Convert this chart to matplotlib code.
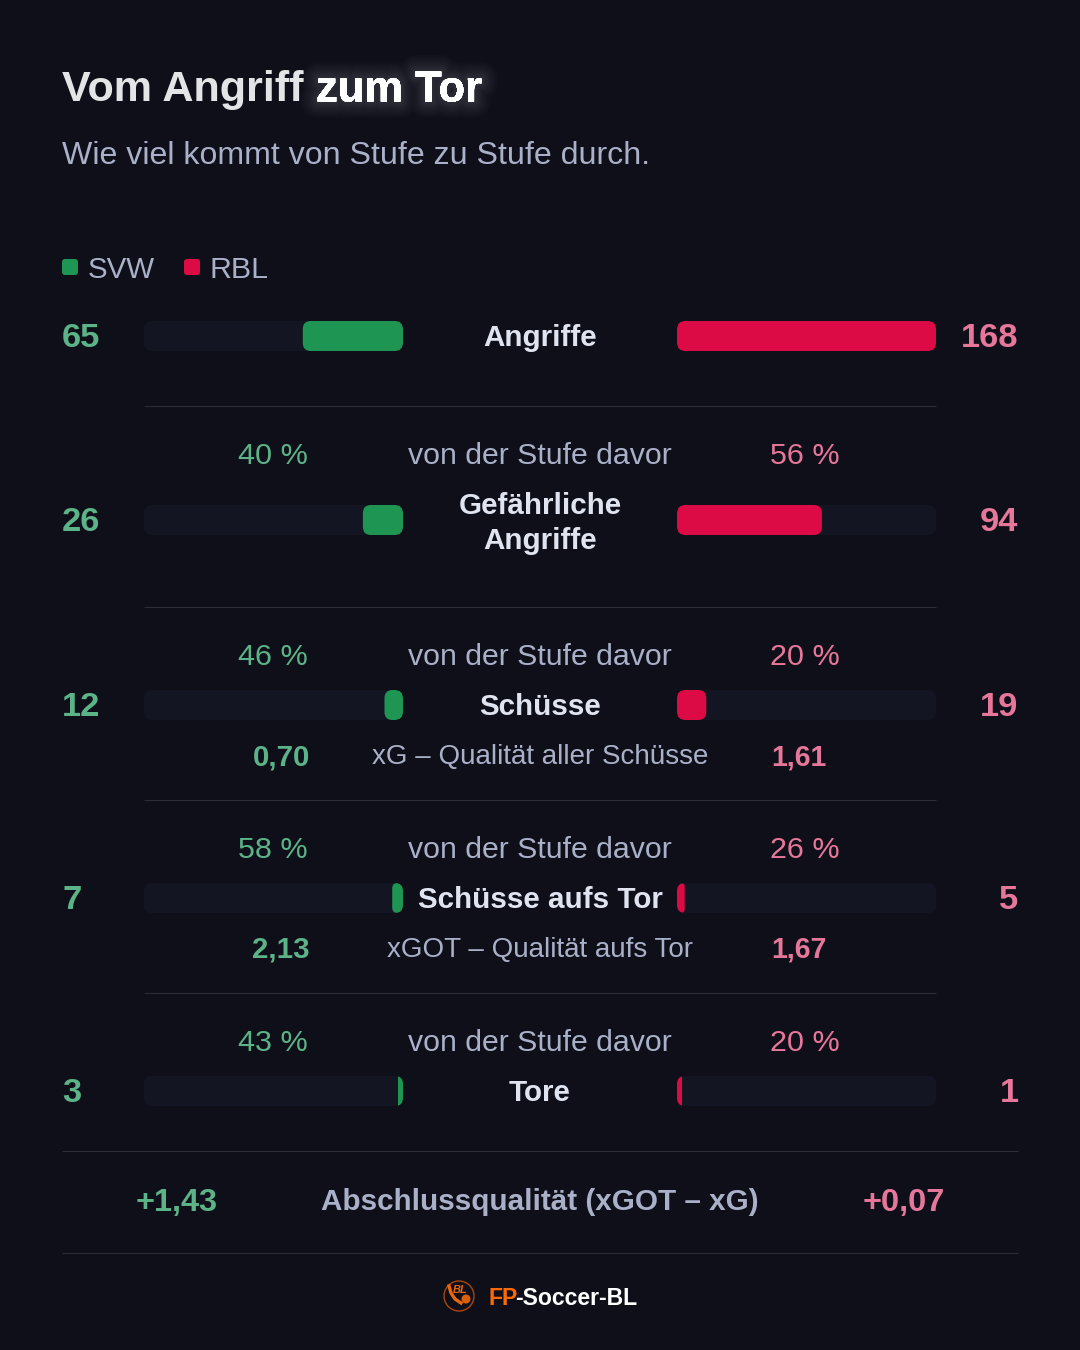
import matplotlib
matplotlib.use("Agg")
import matplotlib.pyplot as plt
import matplotlib.patheffects as pe
from matplotlib.patches import FancyBboxPatch, Circle

plt.rcParams['font.family'] = ['Liberation Sans', 'DejaVu Sans']

# stage data
stages = ["Angriffe", "Gefährliche\nAngriffe", "Schüsse", "Schüsse aufs Tor", "Tore"]
svw = [65, 26, 12, 7, 3]
rbl = [168, 94, 19, 5, 1]
svw_pct = [None, "40 %", "46 %", "58 %", "43 %"]
rbl_pct = [None, "56 %", "20 %", "26 %", "20 %"]
xg_labels = [None, None, "xG – Qualität aller Schüsse", "xGOT – Qualität aufs Tor", None]
svw_xg = [None, None, "0,70", "2,13", None]
rbl_xg = [None, None, "1,61", "1,67", None]
svw_delta = "+1,43"
rbl_delta = "+0,07"

BG = "#0e0f19"
TRACK = "#131622"
GREEN = "#1f9554"
RED = "#dc0a45"
GREEN_T = "#5cb387"
RED_T = "#e7779a"
GREY = "#a9b0c8"
LABEL = "#e0e3f0"
RULE = "#2a2c38"

bar_y = [336, 520, 705, 898, 1091]
pct_y = [None, 454, 655, 848, 1041]
xg_y = [None, None, 755, 948, None]
rule_y = [406, 607, 800, 993]

# left track ends at 403, right one starts at 677
TRACK_W = 259
L_X = 144
R_X = 677
BAR_H = 30
MIN_W = 5
scale = TRACK_W / max(rbl)

fig = plt.figure(figsize=(10.8, 13.5), dpi=100, facecolor=BG)
ax = fig.add_axes([0, 0, 1, 1])
ax.set_xlim(0, 1080)
ax.set_ylim(1350, 0)
ax.axis("off")


def txt(x, y, s, size, color, weight="normal", ha="center", **kw):
    # size is in pixels, figure runs at 100 dpi
    return ax.text(x, y - 1, s, fontsize=size * 0.72, color=color, fontweight=weight,
                   ha=ha, va="center_baseline", **kw)


def rbox(x, y, w, h, r, color, clip=None):
    r = min(r, w / 2, h / 2)
    p = FancyBboxPatch((x + r, y + r), w - 2 * r, h - 2 * r,
                       boxstyle="round,pad=%f,rounding_size=%f" % (r, r),
                       fc=color, ec="none", mutation_aspect=1)
    ax.add_patch(p)
    if clip is not None:
        p.set_clip_path(clip)
    return p


def fill_radius(w):
    # the thinnest bars have a flat inner edge, only the track rounds them
    return 0 if w <= MIN_W else 8


# title
txt(62, 87, "Vom Angriff", 43.2, "#e4e4e6", "bold", ha="left")
glow = txt(316, 87, "zum Tor", 43.5, "#ffffff", "bold", ha="left")
glow.set_path_effects([pe.withStroke(linewidth=w, foreground="white", alpha=0.014)
                       for w in (24, 21, 18, 15, 12, 10, 8, 6, 4)] + [pe.Normal()])
txt(62, 153, "Wie viel kommt von Stufe zu Stufe durch.", 32.2, GREY, ha="left")

# legend
rbox(62, 259, 16, 16, 3, GREEN)
txt(88, 268, "SVW", 29.5, GREY, ha="left")
rbox(184, 259, 16, 16, 3, RED)
txt(210, 268, "RBL", 30.4, GREY, ha="left")

# stages
for i, name in enumerate(stages):
    y = bar_y[i]
    top = y - BAR_H / 2
    lt = rbox(L_X, top, TRACK_W, BAR_H, 8, TRACK)
    rt = rbox(R_X, top, TRACK_W, BAR_H, 8, TRACK)
    wl = max(svw[i] * scale, MIN_W)
    wr = max(rbl[i] * scale, MIN_W)
    rbox(L_X + TRACK_W - wl, top, wl, BAR_H, fill_radius(wl), GREEN, clip=lt)
    rbox(R_X, top, wr, BAR_H, fill_radius(wr), RED, clip=rt)

    txt(62, y, str(svw[i]), 34.5, GREEN_T, "bold", ha="left")
    txt(1018.5, y, str(rbl[i]), 34.5, RED_T, "bold", ha="right")
    label_y = y - 2 if "\n" in name else y
    txt(540, label_y, name, 29.6, LABEL, "bold", linespacing=1.33)

    if svw_pct[i]:
        txt(273, pct_y[i], svw_pct[i], 30.5, GREEN_T)
        txt(805, pct_y[i], rbl_pct[i], 30.5, RED_T)
        txt(540, pct_y[i], "von der Stufe davor", 30.3, GREY)
    if xg_labels[i]:
        txt(310, xg_y[i], svw_xg[i], 29.5, GREEN_T, "bold", ha="right")
        txt(771, xg_y[i], rbl_xg[i], 28.5, RED_T, "bold", ha="left")
        txt(540, xg_y[i], xg_labels[i], 27.7, GREY)

for y in rule_y:
    ax.plot([144, 936], [y, y], color=RULE, lw=0.8, solid_capstyle="butt")

# summary
for y in (1151, 1253):
    ax.plot([62, 1018], [y, y], color=RULE, lw=0.8, solid_capstyle="butt")
txt(176.5, 1201, svw_delta, 32.5, GREEN_T, "bold")
txt(904, 1201, rbl_delta, 32.5, RED_T, "bold")
txt(540, 1200, "Abschlussqualität (xGOT – xG)", 29.6, GREY, "bold")

# footer
ax.add_patch(Circle((459, 1296), 15, fc="none", ec="#a8460a", lw=1))
txt(460, 1290, "BL", 11, "#e8670c", "bold", style="italic")
ax.plot([449, 451, 455, 461], [1286, 1293, 1299, 1303], color="#e8670c", lw=2.4)
ax.add_patch(Circle((466, 1299), 4.5, fc="#d85f0c", ec="none"))
txt(488, 1297, "FP", 23, "#ff6a00", "bold", ha="left")
txt(515.5, 1297, "-Soccer-BL", 23, "#ffffff", "bold", ha="left")

fig.savefig("out.png", dpi=100, facecolor=BG)
